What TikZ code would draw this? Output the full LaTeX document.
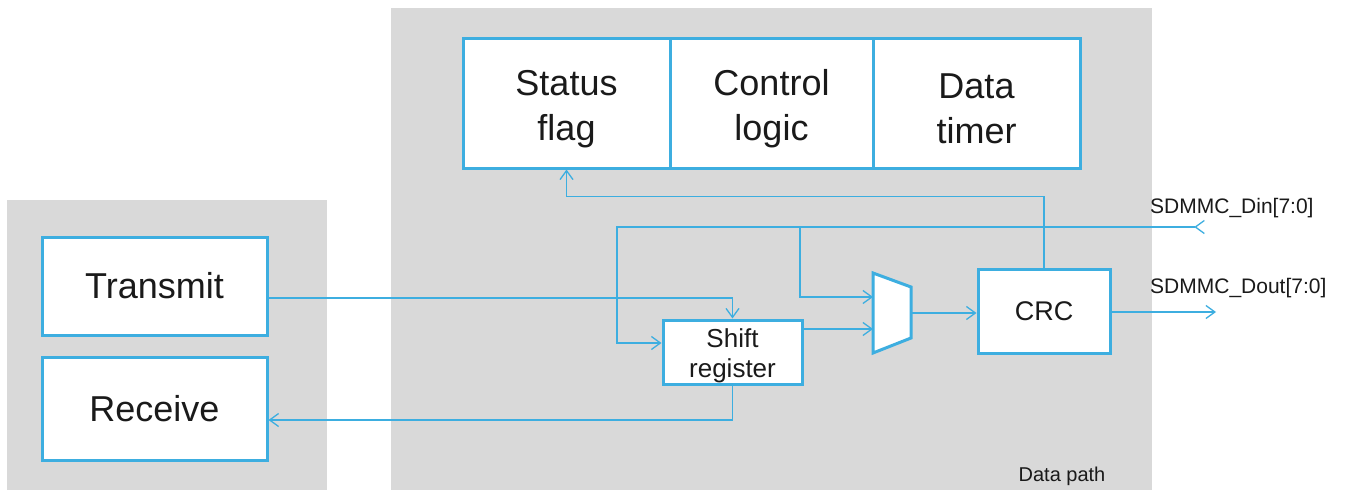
\documentclass[tikz,border=0pt]{standalone}
\usepackage{fontspec}
\setmainfont{Liberation Sans}
\usetikzlibrary{arrows.meta}
\definecolor{panelgray}{HTML}{D9D9D9}
\definecolor{stblue}{HTML}{3DAEE0}
\definecolor{ink}{HTML}{1A1A1A}
\tikzset{
  panel/.style={fill=panelgray, draw=none},
  block/.style={draw=stblue, line width=3pt, fill=white, inner sep=0pt, text=ink, align=center},
  bigtext/.style={font=\fontsize{36}{45}\selectfont},
  midtext/.style={font=\fontsize{27}{30}\selectfont},
  caption/.style={text=ink, align=center, inner sep=0pt},
  wire/.style={draw=stblue, line width=1.3pt},
  arr/.style={wire, -{Straight Barb[length=9pt, width=13pt, line width=1.3pt]}},
  inarr/.style={wire, {Straight Barb[reversed, length=9pt, width=13pt, line width=1.3pt]}-{Straight Barb[length=9pt, width=13pt, line width=1.3pt]}},
  sig/.style={font=\fontsize{21}{24}\selectfont, text=ink, inner sep=0pt, anchor=west},
}
\begin{document}
\begin{tikzpicture}[x=1pt, y=-1pt]
\useasboundingbox (0,0) rectangle (1352,490);
\fill[white] (0,0) rectangle (1352,490);

% background panels
\path[panel] (7,200) rectangle (327,490);
\path[panel] (391,8) rectangle (1152,490);

% control blocks on top (two-line captions sit slightly low)
\node[block, minimum width=207pt, minimum height=130pt,
  label={[caption, bigtext, yshift=-6pt]center:Status\\flag}] (status) at (566.5,103) {};
\node[block, minimum width=203pt, minimum height=130pt,
  label={[caption, bigtext, yshift=-6pt]center:Control\\logic}] (control) at (771.5,103) {};
\node[block, minimum width=207pt, minimum height=130pt,
  label={[caption, bigtext, yshift=-6pt]center:Data\\timer}] (timer) at (976.5,103) {};

% host side blocks
\node[block, bigtext, minimum width=225pt, minimum height=98pt] (transmit) at (154.5,286) {Transmit};
\node[block, bigtext, minimum width=225pt, minimum height=103pt] (receive) at (154.5,408.5) {Receive};

% data path blocks
\node[block, minimum width=139pt, minimum height=64pt,
  label={[caption, font=\fontsize{26}{30}\selectfont, yshift=-4pt]center:Shift\\register}] (shift) at (732.5,352) {};
\node[block, midtext, minimum width=132pt, minimum height=84pt] (crc) at (1044,311) {CRC};

% multiplexer
\coordinate (muxin1) at (873,297);
\coordinate (muxin2) at (873,329);
\coordinate (muxout) at (911,313);
\draw[draw=stblue, line width=3pt, fill=white, line join=miter]
  (873,273) -- (911,287) -- (911,338) -- (873,353) -- cycle;

% external signal ends
\coordinate (din) at (1205,227);
\coordinate (dout) at (1216,312);
\coordinate (dinsplit) at (800,227);

% connectors
\draw[arr] (crc.north) -- ++(0,-71) -| (status.south);
\draw[inarr] (din) -| (617,343) -- (shift.west |- 0,343);
\draw[arr] (dinsplit) |- (muxin1);
\draw[arr] (transmit.east |- 0,298) -| (shift.north);
\draw[arr] (shift.east |- muxin2) -- (muxin2);
\draw[arr] (muxout) -- (crc.west |- muxout);
\draw[arr] (crc.east |- dout) -- (dout);
\draw[arr] (shift.south) |- (receive.east |- 0,420);

% labels
\node[sig] (dinlabel) at (1150,208) {SDMMC\_Din[7:0]};
\node[sig] (doutlabel) at (1150,288) {SDMMC\_Dout[7:0]};
\node[font=\fontsize{20}{24}\selectfont, text=ink, inner sep=0pt] (pathlabel) at (1062,476) {Data path};
\end{tikzpicture}
\end{document}
